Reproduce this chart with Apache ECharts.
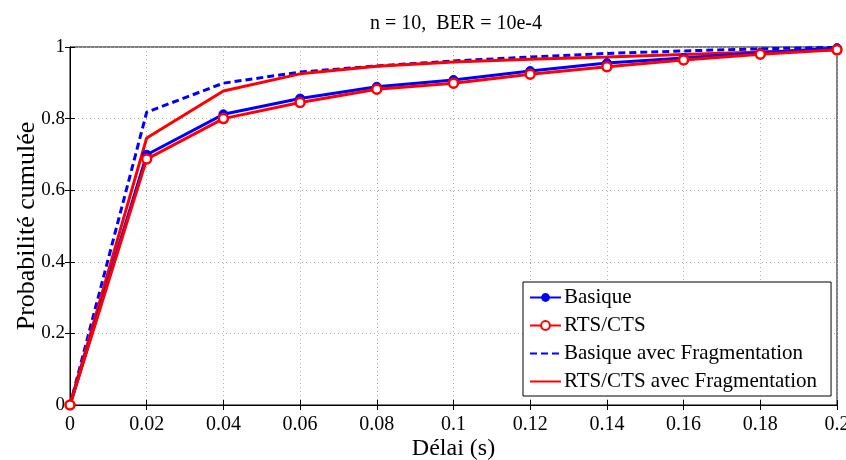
<!DOCTYPE html>
<html><head><meta charset="utf-8">
<script src="https://cdn.jsdelivr.net/npm/echarts@6/dist/echarts.min.js"></script>
<style>html,body{margin:0;padding:0;background:#fff}#c{width:846px;height:460px}</style>
</head><body><div id="c"></div>
<script>
const delays = [0, 0.02, 0.04, 0.06, 0.08, 0.1, 0.12, 0.14, 0.16, 0.18, 0.2];
const xTickLabels = ['0','0.02','0.04','0.06','0.08','0.1','0.12','0.14','0.16','0.18','0.2'];
const yTickLabels = ['0','0.2','0.4','0.6','0.8','1'];
const basique = [0, 0.699, 0.812, 0.856, 0.889, 0.908, 0.933, 0.955, 0.969, 0.984, 0.997];
const rtsCts = [0, 0.687, 0.800, 0.845, 0.882, 0.899, 0.924, 0.945, 0.964, 0.980, 0.992];
const basiqueFrag = [0, 0.818, 0.899, 0.930, 0.947, 0.961, 0.972, 0.982, 0.989, 0.995, 0.999];
const rtsCtsFrag = [0, 0.746, 0.877, 0.925, 0.946, 0.958, 0.966, 0.972, 0.979, 0.986, 0.992];
const names = ['Basique', 'RTS/CTS', 'Basique avec Fragmentation', 'RTS/CTS avec Fragmentation'];

const font = "'Liberation Serif', 'DejaVu Serif', serif";
const pairs = a => delays.map((d, i) => [d, a[i]]);
const chart = echarts.init(document.getElementById('c'));
const gridLine = {show: true, lineStyle: {color: '#b0b0b0', type: [1, 3], width: 1}};
const noMarker = {opacity: 0, color: 'transparent', borderWidth: 0};
chart.setOption({
  animation: false,
  textStyle: {fontFamily: font},
  title: {text: 'n = 10,  BER = 10e-4', left: 451, top: 9, textAlign: 'center',
    textStyle: {fontFamily: font, fontSize: 20, fontWeight: 'normal', color: '#000'}},
  grid: {left: 70, right: 9, top: 47, bottom: 55, show: true, borderColor: '#000', borderWidth: 1,
    containLabel: false, outerBoundsMode: 'none'},
  legend: {
    data: [
      {name: names[0]},
      {name: names[1]},
      {name: names[2], itemStyle: noMarker},
      {name: names[3], itemStyle: noMarker}
    ],
    orient: 'vertical', left: 523, top: 282,
    backgroundColor: '#fff', borderColor: '#000', borderWidth: 1, padding: [5, 14, 4, 6],
    itemGap: 7, itemWidth: 31, itemHeight: 11,
    textStyle: {fontFamily: font, fontSize: 21, color: '#000', padding: [0, 0, 0, -2]}
  },
  xAxis: [{
    type: 'value', min: 0, max: 0.2, interval: 0.02,
    axisLine: {lineStyle: {color: '#000'}}, axisTick: {inside: true, length: 5, lineStyle: {color: '#000'}},
    axisLabel: {fontSize: 20, color: '#000', margin: 10, formatter: v => xTickLabels[Math.round(v / 0.02)]},
    splitLine: gridLine,
    name: 'Délai (s)', nameLocation: 'middle', nameGap: 32, nameMoveOverlap: false,
    nameTextStyle: {fontSize: 24, color: '#000', fontFamily: font}
  }, {
    type: 'value', position: 'top', min: 0, max: 0.2, interval: 0.02,
    axisLine: {show: true, lineStyle: {color: '#000'}}, axisTick: {inside: true, length: 5, lineStyle: {color: '#000'}},
    axisLabel: {show: false}, splitLine: {show: false}
  }],
  yAxis: [{
    type: 'value', min: 0, max: 1, interval: 0.2,
    axisLine: {show: true, lineStyle: {color: '#000'}}, axisTick: {show: true, inside: true, length: 5, lineStyle: {color: '#000'}},
    axisLabel: {fontSize: 19, color: '#000', margin: 5, formatter: v => yTickLabels[Math.round(v / 0.2)]},
    splitLine: gridLine,
    name: 'Probabilité cumulée', nameLocation: 'middle', nameGap: 30, nameMoveOverlap: false,
    nameTextStyle: {fontSize: 26, color: '#000', fontFamily: font}
  }, {
    type: 'value', position: 'right', min: 0, max: 1, interval: 0.2,
    axisLine: {show: true, lineStyle: {color: '#000'}}, axisTick: {show: true, inside: true, length: 5, lineStyle: {color: '#000'}},
    axisLabel: {show: false}, splitLine: {show: false}
  }],
  series: [
    {name: names[2], type: 'line', data: pairs(basiqueFrag), symbol: 'circle', showSymbol: false, z: 2,
      lineStyle: {color: '#0000ff', width: 3, type: [7, 4]}, itemStyle: {color: '#0000ff'}},
    {name: names[3], type: 'line', data: pairs(rtsCtsFrag), symbol: 'circle', showSymbol: false, z: 3,
      lineStyle: {color: '#ff0000', width: 3}, itemStyle: {color: '#ff0000'}},
    {name: names[0], type: 'line', data: pairs(basique), symbol: 'circle', symbolSize: 9, z: 4,
      lineStyle: {color: '#0000ff', width: 3}, itemStyle: {color: '#0000ff', borderColor: '#0000ff'}},
    {name: names[1], type: 'line', data: pairs(rtsCts), symbol: 'circle', symbolSize: 9, z: 5,
      lineStyle: {color: '#ff0000', width: 3}, itemStyle: {color: '#fff', borderColor: '#ff0000', borderWidth: 2.5}}
  ]
});
</script></body></html>
